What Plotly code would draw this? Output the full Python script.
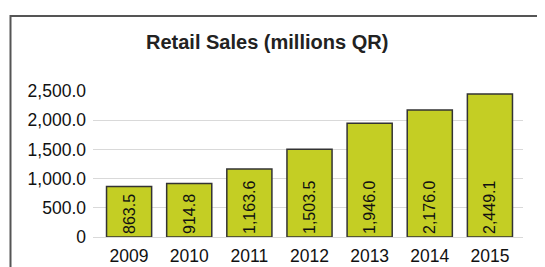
import plotly.graph_objects as go

years = ["2009", "2010", "2011", "2012", "2013", "2014", "2015"]
sales = [863.5, 914.8, 1163.6, 1503.5, 1946.0, 2176.0, 2449.1]
sales_labels = ["863.5", "914.8", "1,163.6", "1,503.5", "1,946.0", "2,176.0", "2,449.1"]
y_ticks = [0, 500, 1000, 1500, 2000, 2500]
y_tick_labels = ["0", "500.0", "1,000.0", "1,500.0", "2,000.0", "2,500.0"]
title = "Retail Sales (millions QR)"

# page body has an 8px default margin; work in screen pixels and offset
OFF = 8
W, H = 545 - OFF, 267 - OFF
L, R, T, B = 93 - OFF, 22, 91 - OFF, 30

def px_to_paper_x(px):
    return (px - OFF - L) / (W - L - R)

def px_to_paper_y(py):
    return (H - B - (py - OFF)) / (H - T - B)

label_font = dict(family="Liberation Sans, Arial", size=16, color="#111111")

fig = go.Figure(go.Bar(
    x=years, y=sales, text=sales_labels,
    textposition="inside", insidetextanchor="start", textangle=-90,
    textfont=label_font, insidetextfont=label_font,
    marker=dict(color="#C4CE24", line=dict(color="#333333", width=1.5)),
    width=0.75,
))

fig.update_layout(
    template="none",
    width=W, height=H,
    margin=dict(l=L, r=R, t=T, b=B, pad=0),
    paper_bgcolor="white", plot_bgcolor="white",
    showlegend=False,
    font=dict(family="Liberation Sans, Arial", size=17, color="#111111"),
    xaxis=dict(type="category", range=[-0.6, 6.55], showgrid=False,
               showline=False, zeroline=False, ticks="", automargin=False,
               ticklabelstandoff=6,
               tickfont=dict(size=17.5)),
    yaxis=dict(range=[0, 2500], tickvals=y_ticks, ticktext=y_tick_labels,
               showgrid=True, gridcolor="#D9D9D9", gridwidth=1,
               zeroline=True, zerolinecolor="#D9D9D9", zerolinewidth=1,
               showline=False, ticks="", ticklabelstandoff=6, automargin=False,
               tickfont=dict(size=17.5)),
    annotations=[dict(text="<b>" + title + "</b>", xref="paper", yref="paper",
                      x=px_to_paper_x(267), y=px_to_paper_y(42),
                      xanchor="center", yanchor="middle", showarrow=False,
                      font=dict(size=20, color="#222222"))],
    shapes=[dict(type="rect", xref="paper", yref="paper",
                 x0=px_to_paper_x(10.5), x1=px_to_paper_x(570),
                 y0=px_to_paper_y(300), y1=px_to_paper_y(16),
                 line=dict(color="#555555", width=2), fillcolor="rgba(0,0,0,0)",
                 layer="above")],
)

fig.write_html("out.html")
